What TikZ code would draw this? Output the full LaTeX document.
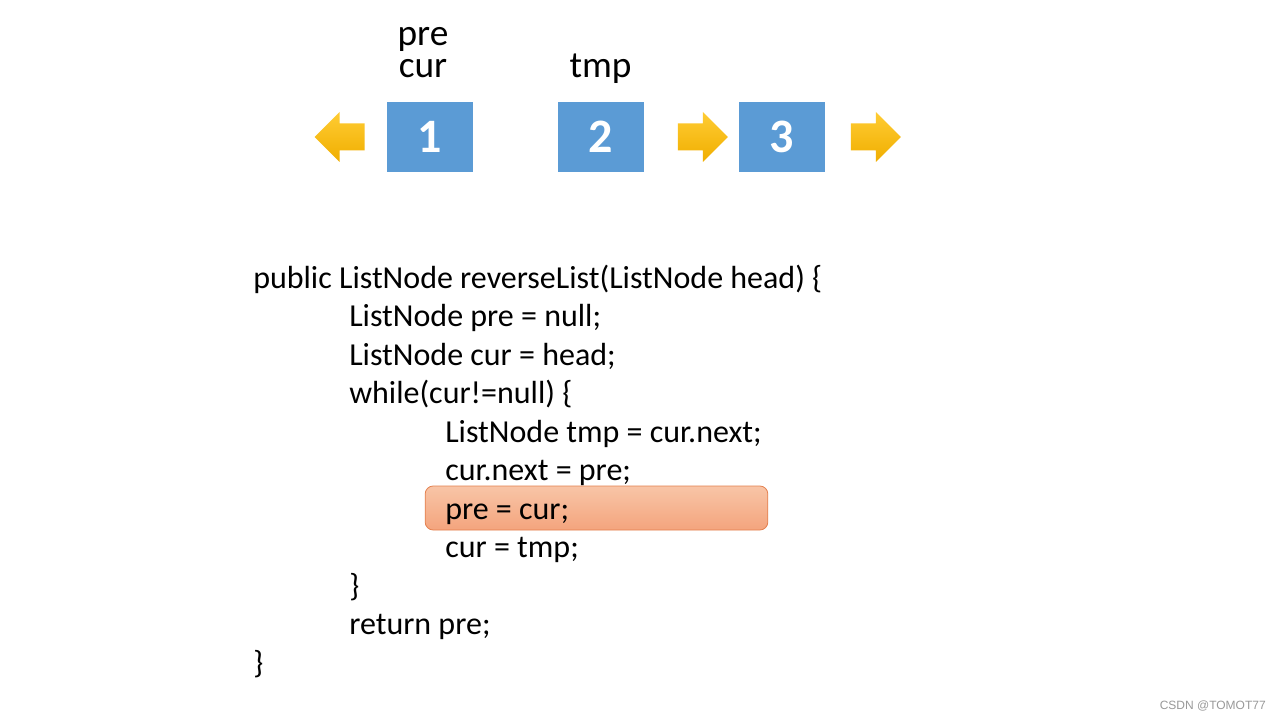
\documentclass[tikz,border=0pt]{standalone}
\usepackage{fontspec}
\setmainfont{Carlito}
\newfontfamily\wmfont{Liberation Sans}
\usetikzlibrary{positioning,calc}

\definecolor{boxblue}{HTML}{5B9BD5}
\definecolor{arrowtop}{HTML}{FFCC33}
\definecolor{arrowbot}{HTML}{F0AE00}
\definecolor{hltop}{HTML}{F8C5A7}
\definecolor{hlbot}{HTML}{F4A47D}
\definecolor{hlline}{HTML}{E4804F}

\tikzset{
  listbox/.style={fill=boxblue, minimum width=64.5pt, minimum height=52.5pt, inner sep=0pt,
    text=white, font=\fontsize{36}{40}\selectfont\bfseries},
  varname/.style={font=\fontsize{28}{23.5}\selectfont, inner sep=0pt, align=center},
  codeline/.style={font=\fontsize{24}{28.8}\selectfont, inner sep=0pt, anchor=base west},
  hlbox/.style={rounded corners=6pt, top color=hltop, bottom color=hlbot, draw=hlline,
    line width=0.6pt, minimum width=257pt, minimum height=33pt, inner sep=0pt},
  arrowfill/.style={top color=arrowtop, bottom color=arrowbot},
}

% block arrow: #1 = tail point, #2 = 1 (right) or -1 (left)
\newcommand{\yellowarrow}[2]{%
  \shade[arrowfill, shift={#1}, xscale=#2]
    (0,-13.5) -- (25,-13.5) -- (25,-25) -- (50,0) -- (25,25) -- (25,13.5) -- (0,13.5) -- cycle;}

\begin{document}
\begin{tikzpicture}[x=0.75pt, y=-0.75pt]
	\useasboundingbox[fill=white] (0,0) rectangle (1280,720);

	% linked list
	\node[listbox] (b1) at (430,137)   {1};
	\node[listbox] (b2) at (600.5,137) {2};
	\node[listbox] (b3) at (781.5,137) {3};

	\yellowarrow{($(b1.west)+(-22,0)$)}{-1}
	\yellowarrow{($(b2.east)+(34,0)$)}{1}
	\yellowarrow{($(b3.east)+(26,0)$)}{1}

	% pointers
	\node[varname, anchor=south] (precur) at ($(b1.north)+(-7,-24)$) {pre\\cur};
	\node[varname, anchor=base]  (tmp)    at ($(b2.north)+(0,-24)$)  {tmp};

	% code
	\node[hlbox] (hl) at (596.5,508) {};
	\foreach \lvl/\txt [count=\i] in {
		0/{public ListNode reverseList(ListNode head) \{},
		1/{ListNode pre = null;},
		1/{ListNode cur = head;},
		1/{while(cur!=null) \{},
		2/{ListNode tmp = cur.next;},
		2/{cur.next = pre;},
		2/{pre = cur;},
		2/{cur = tmp;},
		1/{\}},
		1/{return pre;},
		0/{\}}}
		\node[codeline] (l\i) at ({253+96*\lvl},{288+38.5*(\i-1)}) {\txt};

	\node[anchor=base east, inner sep=0pt, text=black!40,
	      font=\wmfont\fontsize{9}{10}\selectfont] (wm) at (1266,709) {CSDN @TOMOT77};
\end{tikzpicture}
\end{document}
